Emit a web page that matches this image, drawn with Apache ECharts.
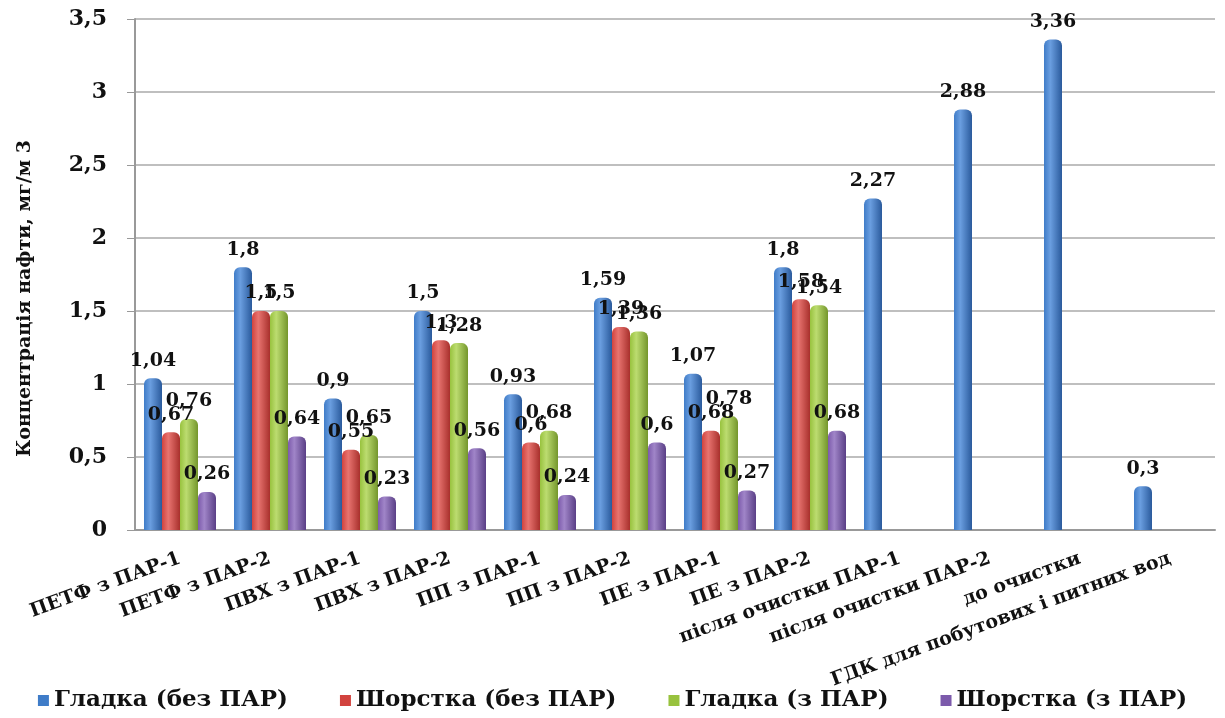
<!DOCTYPE html>
<html>
<head>
<meta charset="utf-8">
<script src="https://cdn.jsdelivr.net/npm/echarts@6/dist/echarts.min.js"></script>
<style>
  html, body { margin: 0; padding: 0; background: #fff; }
  #chart { width: 1225px; height: 718px; }
</style>
</head>
<body>
<div id="chart"></div>
<script>
var chartDom = document.getElementById('chart');
var myChart = echarts.init(chartDom);
var option;

// Категорії зразків
const categories = [
  'ПЕТФ з ПАР-1', 'ПЕТФ з ПАР-2', 'ПВХ з ПАР-1', 'ПВХ з ПАР-2',
  'ПП з ПАР-1', 'ПП з ПАР-2', 'ПЕ з ПАР-1', 'ПЕ з ПАР-2',
  'після очистки ПАР-1', 'після очистки ПАР-2', 'до очистки',
  'ГДК для побутових і питних вод'
];
const seriesNames = ['Гладка (без ПАР)', 'Шорстка (без ПАР)', 'Гладка (з ПАР)', 'Шорстка (з ПАР)'];

// Концентрація нафти, мг/м3
const smoothNoSurf = [1.04, 1.8, 0.9, 1.5, 0.93, 1.59, 1.07, 1.8, 2.27, 2.88, 3.36, 0.3];
const roughNoSurf  = [0.67, 1.5, 0.55, 1.3, 0.6, 1.39, 0.68, 1.58, null, null, null, null];
const smoothSurf   = [0.76, 1.5, 0.65, 1.28, 0.68, 1.36, 0.78, 1.54, null, null, null, null];
const roughSurf    = [0.26, 0.64, 0.23, 0.56, 0.24, 0.6, 0.27, 0.68, null, null, null, null];

const fontFam = '"DejaVu Serif", "Liberation Serif", serif';

function cyl(dark, mid, light) {
  return new echarts.graphic.LinearGradient(0, 0, 1, 0, [
    {offset: 0, color: mid},
    {offset: 0.35, color: light},
    {offset: 1, color: dark}
  ]);
}

const colors = [
  cyl('#2a5a9c', '#3f7cc8', '#6a9ee0'),
  cyl('#a8302c', '#d2433e', '#e87470'),
  cyl('#74962c', '#98c23e', '#bcdc70'),
  cyl('#5a3f86', '#7c5aab', '#a085c8')
];
const legendColors = ['#3f7cc8', '#d2433e', '#98c23e', '#7c5aab'];

function makeSeries(name, data, i) {
  return {
    name: name,
    type: 'bar',
    data: data,
    barGap: '0%',
    barCategoryGap: '20%',
    itemStyle: { color: colors[i], borderRadius: [6, 6, 0, 0] },
    label: {
      show: true,
      position: 'top',
      distance: 8,
      color: '#111',
      fontFamily: fontFam,
      fontWeight: 'bold',
      fontSize: 19,
      formatter: function (p) { return String(p.value).replace('.', ','); }
    }
  };
}

option = {
  backgroundColor: '#fff',
  color: legendColors,
  grid: { left: 135, right: 10, top: 19, bottom: 188 },
  legend: {
    bottom: 1,
    left: 'center',
    itemWidth: 11,
    itemHeight: 11,
    itemGap: 52,
    icon: 'rect',
    data: seriesNames.map(function (n, i) { return { name: n, itemStyle: { color: legendColors[i] } }; }),
    textStyle: { fontFamily: fontFam, fontWeight: 'bold', fontSize: 23, color: '#111' }
  },
  xAxis: {
    type: 'category',
    data: categories,
    axisLine: { lineStyle: { color: '#999', width: 2 } },
    axisTick: { show: false },
    axisLabel: {
      interval: 0,
      rotate: 20,
      margin: 28,
      color: '#111',
      fontFamily: fontFam,
      fontWeight: 'bold',
      fontSize: 19
    }
  },
  yAxis: {
    type: 'value',
    min: 0,
    max: 3.5,
    interval: 0.5,
    name: 'Концентрація нафти, мг/м 3',
    nameLocation: 'middle',
    nameGap: 100,
    nameTextStyle: {
      fontFamily: fontFam, fontWeight: 'bold', fontSize: 19, color: '#111',
      padding: [0, 48, 0, 0]
    },
    axisLine: { show: true, lineStyle: { color: '#999', width: 2 } },
    axisTick: { show: true, length: 8, lineStyle: { color: '#999' } },
    splitLine: { lineStyle: { color: '#aaa', width: 1.5 } },
    axisLabel: {
      margin: 28,
      color: '#111',
      fontFamily: fontFam,
      fontWeight: 'bold',
      fontSize: 22,
      formatter: function (v) { return String(v).replace('.', ','); }
    }
  },
  series: [
    makeSeries(seriesNames[0], smoothNoSurf, 0),
    makeSeries(seriesNames[1], roughNoSurf, 1),
    makeSeries(seriesNames[2], smoothSurf, 2),
    makeSeries(seriesNames[3], roughSurf, 3)
  ]
};

option && myChart.setOption(option);
</script>
</body>
</html>
